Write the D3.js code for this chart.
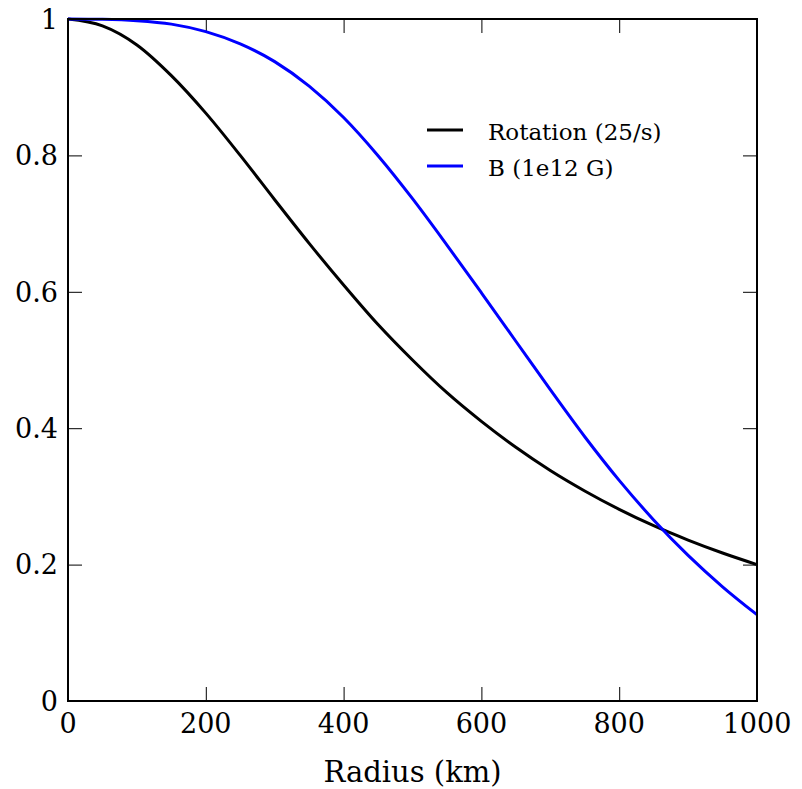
<!DOCTYPE html>
<html>
<head>
<meta charset="utf-8">
<script src="https://cdn.jsdelivr.net/npm/d3@7"></script>
<style>
  body { margin: 0; background: #fff; }
  text { font-family: "DejaVu Serif", "Liberation Serif", serif; fill: #000; }
</style>
</head>
<body>
<svg id="chart"></svg>
<script>
// radius in km
const radius = [0, 50, 100, 150, 200, 250, 300, 350, 400, 450, 500,
                550, 600, 650, 700, 750, 800, 850, 900, 950, 1000];
const rotation = [1.000, 0.990, 0.962, 0.917, 0.862, 0.800, 0.735, 0.671, 0.610, 0.552, 0.500,
                  0.452, 0.410, 0.372, 0.338, 0.308, 0.281, 0.257, 0.236, 0.217, 0.200];
const bField = [1.000, 0.9995, 0.9975, 0.9925, 0.9815, 0.9635, 0.9375, 0.9015, 0.8555, 0.7995, 0.7365,
                0.6685, 0.5985, 0.5275, 0.4565, 0.3875, 0.3235, 0.2655, 0.2135, 0.1675, 0.1265];
const seriesNames = ["Rotation (25/s)", "B (1e12 G)"];
const seriesColors = ["#000000", "#0000ff"];
const xTicks = [0, 200, 400, 600, 800, 1000];
const yTicks = [0, 0.2, 0.4, 0.6, 0.8, 1];

const margin = {top: 19, right: 45, bottom: 88, left: 68},
    width = 757 - margin.left,
    height = 701 - margin.top;

const svg = d3.select("#chart")
    .attr("width", 802)
    .attr("height", 789);

const g = svg.append("g").attr("transform", `translate(${margin.left},${margin.top})`);

const x = d3.scaleLinear().domain([0, 1000]).range([0, width]);
const y = d3.scaleLinear().domain([0, 1]).range([height, 0]);

const fmt = d => d === 0 || d === 1 ? String(d) : d3.format(".1f")(d);

// ticks pointing inward on all four sides
g.append("g")
    .attr("transform", `translate(0,${height})`)
    .call(d3.axisTop(x).tickValues(xTicks).tickSize(14).tickFormat(""))
    .call(a => a.select(".domain").remove());
g.append("g")
    .call(d3.axisBottom(x).tickValues(xTicks).tickSize(14).tickFormat(""))
    .call(a => a.select(".domain").remove());
g.append("g")
    .call(d3.axisRight(y).tickValues(yTicks).tickSize(14).tickFormat(""))
    .call(a => a.select(".domain").remove());
g.append("g")
    .attr("transform", `translate(${width},0)`)
    .call(d3.axisLeft(y).tickValues(yTicks).tickSize(14).tickFormat(""))
    .call(a => a.select(".domain").remove());
g.selectAll(".tick line").attr("stroke", "#000").attr("stroke-width", 1);

// tick labels
g.selectAll(".xlab")
    .data(xTicks)
    .enter().append("text")
        .attr("x", d => x(d))
        .attr("y", height + 32)
        .attr("text-anchor", "middle")
        .style("font-size", "27px")
        .text(d => d);

g.selectAll(".ylab")
    .data(yTicks)
    .enter().append("text")
        .attr("x", -10)
        .attr("y", d => y(d))
        .attr("dy", "0.36em")
        .attr("text-anchor", "end")
        .style("font-size", "27px")
        .text(fmt);

// curves
const series = [rotation, bField];
const line = d3.line()
    .x((d, i) => x(radius[i]))
    .y(d => y(d))
    .curve(d3.curveMonotoneX);

g.selectAll(".curve")
    .data(series)
    .enter().append("path")
        .attr("class", "curve")
        .attr("fill", "none")
        .attr("stroke", (d, i) => seriesColors[i])
        .attr("stroke-width", 3)
        .attr("d", line);

// frame
g.append("rect")
    .attr("width", width)
    .attr("height", height)
    .attr("fill", "none")
    .attr("stroke", "#000")
    .attr("stroke-width", 2);

// legend
const legend = g.append("g").attr("transform", "translate(359,111)");
seriesNames.forEach((name, i) => {
    legend.append("line")
        .attr("x1", 0).attr("x2", 36)
        .attr("y1", i * 36).attr("y2", i * 36)
        .attr("stroke", seriesColors[i])
        .attr("stroke-width", 3);
    legend.append("text")
        .attr("x", 61)
        .attr("y", i * 36 + 10)
        .style("font-size", "23px")
        .text(name);
});

svg.append("text")
    .attr("x", margin.left + width / 2)
    .attr("y", 782)
    .attr("text-anchor", "middle")
    .style("font-size", "29px")
    .text("Radius (km)");
</script>
</body>
</html>
